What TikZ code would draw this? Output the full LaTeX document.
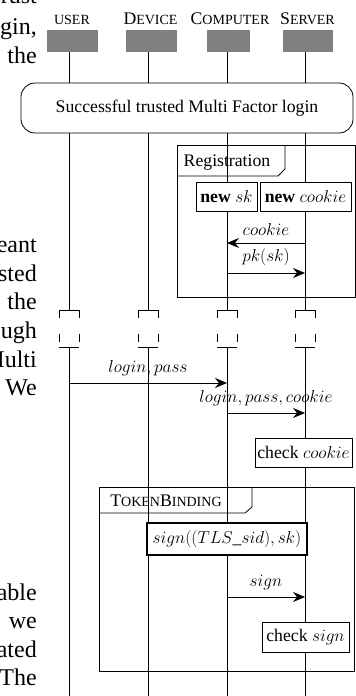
\documentclass[tikz,border=0pt]{standalone}
\usepackage{fontspec}
\setmainfont{Liberation Serif}
\usetikzlibrary{arrows.meta}
\newcommand{\dfont}{\fontsize{17.7pt}{21pt}\selectfont}
\newcommand{\pfont}{\fontsize{24pt}{28pt}\selectfont}
\newcommand{\fsc}[1]{{\fontsize{14pt}{14pt}\selectfont #1}}
\begin{document}
\begin{tikzpicture}[x=1pt,y=-1pt,
  every node/.style={font=\dfont, inner sep=0pt},
  life/.style={line width=0.9pt},
  brk/.style={line width=0.8pt},
  brkd/.style={line width=0.8pt, dash pattern=on 8pt off 16pt},
  hdr/.style={fill=black!50, draw=none, minimum height=22pt},
  act/.style={draw, fill=white, line width=0.8pt, inner sep=0pt},
  frm/.style={draw, line width=0.8pt, inner sep=0pt},
  msg/.style={line width=0.9pt, -{Stealth[length=12pt,width=10pt,inset=4pt]}},
  lbl/.style={midway, above=5pt, inner sep=2pt},
  ptext/.style={anchor=base east, font=\pfont}]
\useasboundingbox (0,0) rectangle (356,696);

% paper text fragments at the left edge
\node[ptext] (p1) at (37,4) {rust};
\node[ptext] (p2) at (37,34) {gin,};
\node[ptext] (p3) at (37,63) {the};
\node[ptext] (p4) at (37,252) {eant};
\node[ptext] (p5) at (37,281) {sted};
\node[ptext] (p6) at (37,309) {the};
\node[ptext] (p7) at (37,338) {ugh};
\node[ptext] (p8) at (37,367) {Multi};
\node[ptext] (p9) at (37,395) {We};
\node[ptext] (p10) at (37,600) {able};
\node[ptext] (p11) at (37,628) {we};
\node[ptext] (p12) at (37,657) {ated};
\node[ptext] (p13) at (37,685) {The};

% headers
\node[anchor=base] (tU) at (72,24) {\fsc{USER}};
\node[anchor=base] (tD) at (150.5,24) {D\fsc{EVICE}};
\node[anchor=base] (tC) at (230,24) {C\fsc{OMPUTER}};
\node[anchor=base] (tS) at (307.5,24) {S\fsc{ERVER}};
\node[hdr, minimum width=51pt] (hU) at (72.5,41) {};
\node[hdr, minimum width=51pt] (hD) at (151.5,41) {};
\node[hdr, minimum width=43pt] (hC) at (228.5,41) {};
\node[hdr, minimum width=50pt] (hS) at (308,41) {};

% lifeline coordinates
\coordinate (Ub1) at (69,310);   \coordinate (Ub2) at (69,347);   \coordinate (Ue) at (69,696);
\coordinate (Db1) at (148,310);  \coordinate (Db2) at (148,347);  \coordinate (De) at (148,696);
\coordinate (Cb1) at (227,310);  \coordinate (Cb2) at (227,347);  \coordinate (Ce) at (227,696);
\coordinate (Sb1) at (305,310);  \coordinate (Sb2) at (305,347);  \coordinate (Se) at (305,696);

\foreach \L in {U,D,C,S}{
  \draw[life] (h\L.south -| \L b1) -- (\L b1);
  \draw[life] (\L b2) -- (\L e);
  \draw[brk] ([xshift=-10pt]\L b1) -- ([xshift=10pt]\L b1);
  \draw[brk] ([xshift=-10pt]\L b2) -- ([xshift=10pt]\L b2);
  \draw[brkd] ([xshift=-10pt]\L b1) -- ([xshift=-10pt]\L b2);
  \draw[brkd] ([xshift=10pt]\L b1) -- ([xshift=10pt]\L b2);
}

% successful login
\node[draw, fill=white, line width=0.8pt, rounded corners=14pt,
      minimum width=332pt, minimum height=50pt] (mfa) at (187,108)
      {Successful trusted Multi Factor login};

% Registration frame
\node[frm, anchor=north west, minimum width=178pt, minimum height=152pt] (reg) at (177,145) {};
\draw[line width=0.8pt] (reg.north west) ++(0,31) -- ++(101,0) -- ++(7,-7) -- ++(0,-24);
\node[anchor=base] (regl) at (227,166) {Registration};

\node[act, minimum width=61pt, minimum height=29pt] (nsk) at (226.5,196.5) {\textbf{new} $sk$};
\node[act, minimum width=91pt, minimum height=29pt] (nck) at (305.5,196.5) {\textbf{new} $cookie$};

\coordinate (m1a) at (305,243); \coordinate (m1b) at (227,243);
\draw[msg] (m1a) -- (m1b) node[lbl] (l1) {$cookie$};
\coordinate (m2a) at (227,273); \coordinate (m2b) at (305,273);
\draw[msg] (m2a) -- (m2b) node[lbl] (l2) {$pk(sk)$};

% login
\coordinate (m3a) at (69,383); \coordinate (m3b) at (227,383);
\draw[msg] (m3a) -- (m3b) node[lbl] (l3) {$login, pass$};
\coordinate (m4a) at (227,413); \coordinate (m4b) at (305,413);
\draw[msg] (m4a) -- (m4b) node[lbl] (l4) {$login, pass, cookie$};

\node[act, minimum width=97pt, minimum height=29pt] (chc) at (303.5,452.5) {check $cookie$};

% TokenBinding frame
\node[frm, anchor=north west, minimum width=255pt, minimum height=184pt] (tb) at (99,487) {};
\draw[line width=0.8pt] (tb.north west) ++(0,26) -- ++(146,0) -- ++(7,-6) -- ++(0,-20);
\node[anchor=base] (tbl) at (166,506.5) {T\fsc{OKEN}B\fsc{INDING}};

\node[act, line width=1.3pt, minimum width=160pt, minimum height=32pt] (sg) at (227,539) {$sign((TLS\_sid), sk)$};

\coordinate (m5a) at (227,597); \coordinate (m5b) at (305,597);
\draw[msg] (m5a) -- (m5b) node[lbl] (l5) {$sign$};

\node[act, minimum width=87pt, minimum height=30pt] (chs) at (305.5,637) {check $sign$};
\end{tikzpicture}
\end{document}
